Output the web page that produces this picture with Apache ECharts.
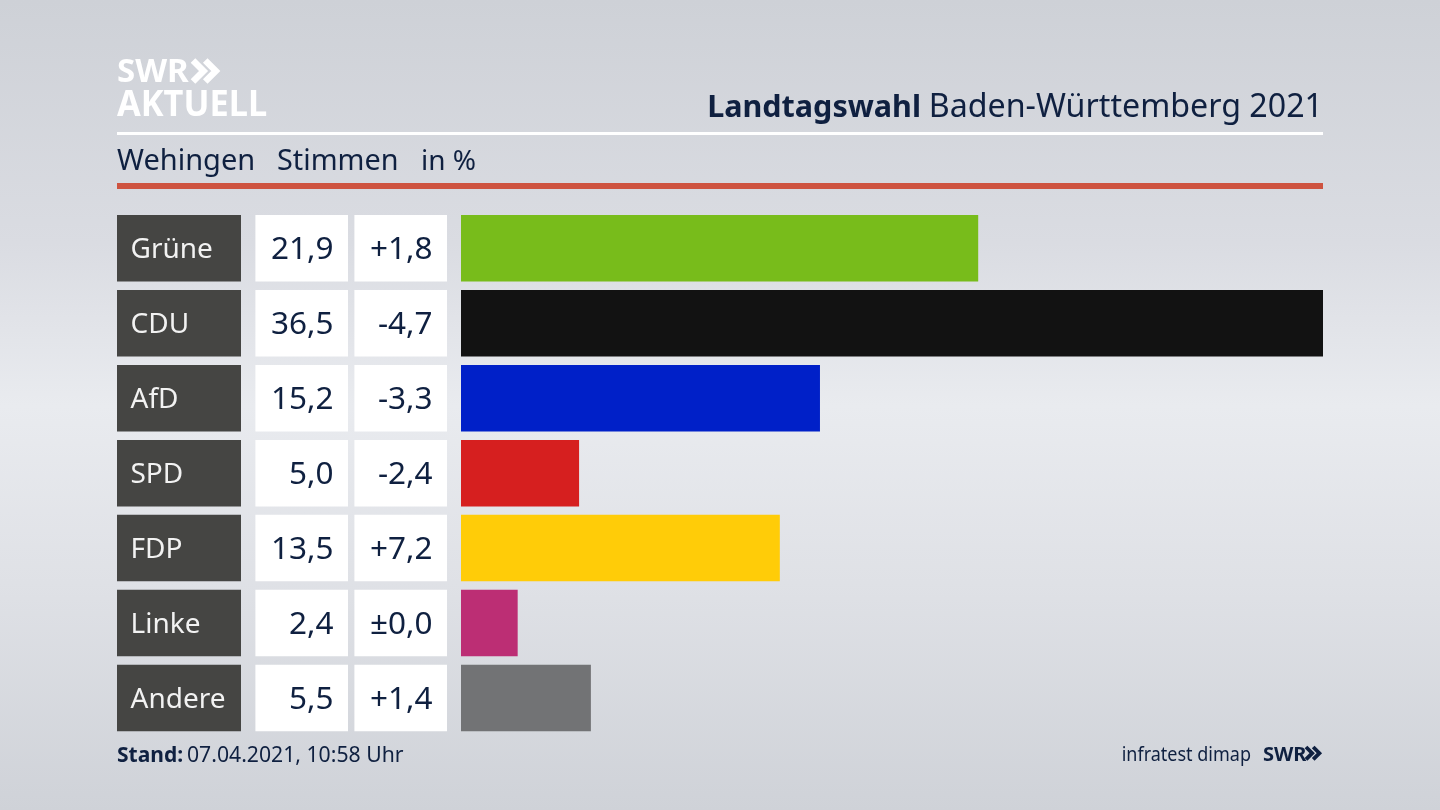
<!DOCTYPE html>
<html><head><meta charset="utf-8">
<style>html,body{margin:0;padding:0;width:1440px;height:810px;overflow:hidden}#c{width:1440px;height:810px}</style>
<script src="https://cdn.jsdelivr.net/npm/echarts@6/dist/echarts.min.js"></script>
</head><body><div id="c"></div>
<script>
const parties = ['Grüne','CDU','AfD','SPD','FDP','Linke','Andere'];
const shares = [21.9,36.5,15.2,5.0,13.5,2.4,5.5];
const changes = ['+1,8','-4,7','-3,3','-2,4','+7,2','±0,0','+1,4'];
const colors = ['#78BC1B','#121212','#0020C8','#D61F1F','#FFCC08','#BC2E74','#727375'];
const titleBold = 'Landtagswahl';
const titleRest = 'Baden-Württemberg 2021';
const subtitle = ['Wehingen','Stimmen','in %'];
const standLabel = 'Stand:';
const standValue = '07.04.2021, 10:58 Uhr';
const source = 'infratest dimap';

const FONT = '"Noto Sans", sans-serif';
const INK = '#0F2040';
const gridTop = 210.9, gridBottom = 810-735.4, barW = 66.5;
const cols = [[117,241],[255.4,348],[354.4,447],[461,1323]];
const grid = cols.map(c => ({left:c[0], width:c[1]-c[0], top:gridTop, bottom:gridBottom, containLabel:false}));
const fmt = v => v.toFixed(1).replace('.',',');
const xAxis = cols.map((c,i) => ({gridIndex:i, type:'value', min:0, max:i===3?36.5:1, show:false}));
const yAxis = cols.map((c,i) => ({gridIndex:i, type:'category', inverse:true, data:parties, show:false}));
const cell = (i,color,text,align,fc,size) => ({
  type:'bar', xAxisIndex:i, yAxisIndex:i, barWidth:barW, silent:true, animation:false,
  itemStyle:{color},
  data:parties.map(()=>1),
  label:{show:true, position:align==='left'?'insideLeft':'insideRight', distance:align==='left'?13.5:14.5, offset:[0,2],
    formatter:p=>text[p.dataIndex], color:fc, fontFamily:FONT, fontSize:size}
});
const swrChevrons = (x,y,s,color) => [0,1].map(k => ({
  type:'polyline', silent:true,
  shape:{points:[[x+k*s*0.72,y],[x+k*s*0.72+s*0.62,y+s*0.62],[x+k*s*0.72,y+s*1.24]]},
  style:{stroke:color,fill:null,lineWidth:s*0.38}
}));
const txt = (x,y,text,size,color,extra={},scaleX=1) => ({
  type:'text', x, y, scaleX, silent:true,
  style:Object.assign({text,fontFamily:FONT,fontSize:size,fill:color,textVerticalAlign:'middle'},extra)
});
const chart = echarts.init(document.getElementById('c'),null,{renderer:'canvas'});
chart.setOption({
  animation:false,
  backgroundColor:{type:'linear',x:0,y:0,x2:0,y2:1,colorStops:[
    {offset:0,color:'#CED1D7'},{offset:0.3,color:'#DADCE2'},{offset:0.5,color:'#E9EBEF'},{offset:0.72,color:'#DFE1E6'},{offset:1,color:'#CFD2D8'}]},
  grid, xAxis, yAxis,
  series:[
    cell(0,'#454543',parties,'left','#F2F2F2',28),
    cell(1,'#FFFFFF',shares.map(fmt),'right',INK,31.5),
    cell(2,'#FFFFFF',changes,'right',INK,31.5),
    {type:'bar',xAxisIndex:3,yAxisIndex:3,barWidth:barW,silent:true,animation:false,
     data:shares.map((v,i)=>({value:v,itemStyle:{color:colors[i]}}))}
  ],
  graphic:[
    {type:'rect',silent:true,shape:{x:117,y:132,width:1206,height:3},style:{fill:'#FFFFFF'}},
    {type:'rect',silent:true,shape:{x:117,y:183,width:1206,height:6},style:{fill:'#CE5340'}},
    txt(117,72.5,'SWR',33,'#FFFFFF',{fontWeight:'bold'}),
    txt(117,105.5,'AKTUELL',36,'#FFFFFF',{fontWeight:'bold'},0.955),
    ...swrChevrons(193,60.5,17,'#FFFFFF'),
    txt(1323,108,titleRest,32.2,INK,{textAlign:'right'}),
    txt(921,108,titleBold,30.5,INK,{textAlign:'right',fontWeight:'bold'}),
    txt(117,162,subtitle[0],29,INK),
    txt(277,162,subtitle[1],28.8,INK),
    txt(421,162,subtitle[2],28,INK),
    txt(117,756,standLabel,21,INK,{fontWeight:'bold'}),
    txt(187,756,standValue,21.2,INK),
    txt(1251,755,source,20,INK,{textAlign:'right'},0.9),
    txt(1263,755,'SWR',20,INK,{fontWeight:'bold'}),
    ...swrChevrons(1306,747,10,INK)
  ]
});
</script></body></html>
